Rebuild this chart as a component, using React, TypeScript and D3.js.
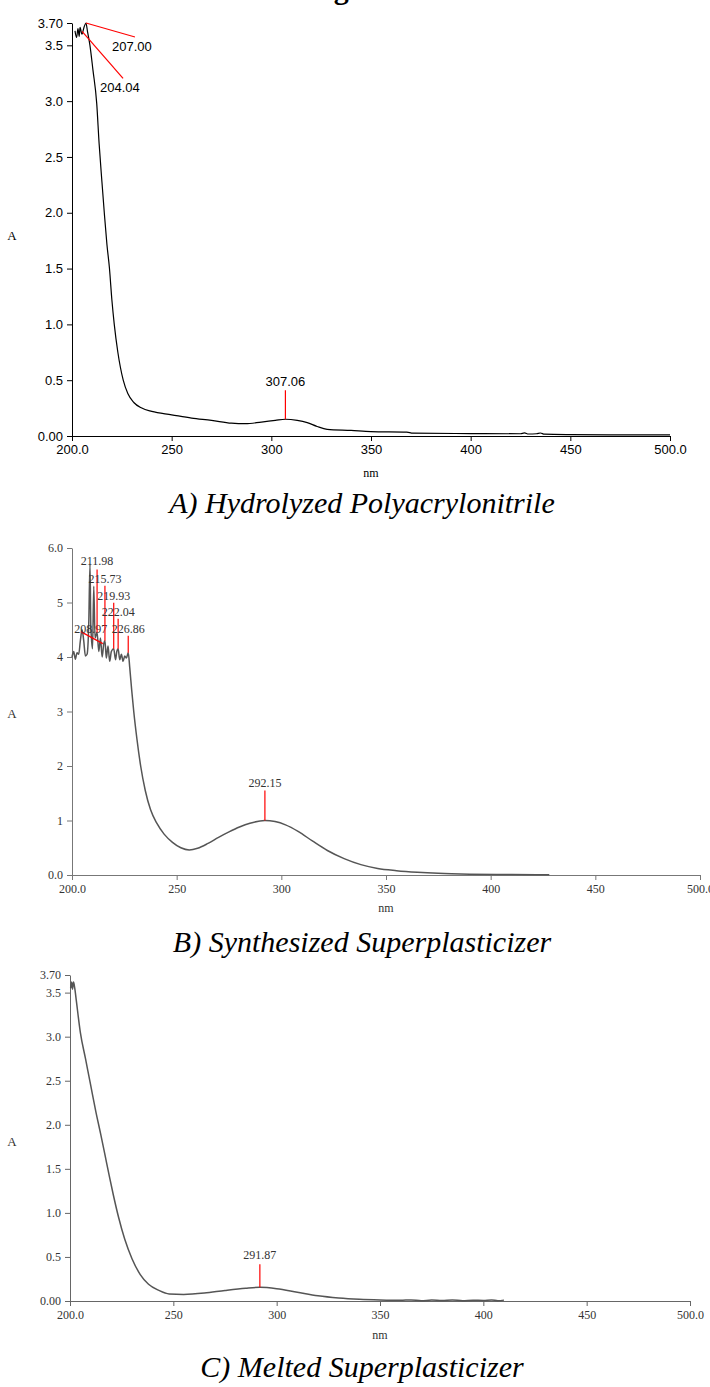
import React, { useEffect, useRef } from 'react';
import * as d3 from 'd3';

// UV-Vis spectra, three stacked panels

const xTicks = [200, 250, 300, 350, 400, 450, 500];
const xLabels = ['200.0', '250', '300', '350', '400', '450', '500.0'];

// A) hydrolyzed polyacrylonitrile
const aWave = [201.5, 202.3, 203.0, 203.6, 204.04, 205.0, 206.0, 207.0, 207.8, 209.0, 210.5, 212.4, 213.6, 215.0, 216.2, 217.5, 218.8, 220.0, 221.2, 223.0, 225.7, 228.0, 231.0, 235.0, 240.0, 250.0, 260.0, 270.0, 280.0, 287.0, 295.0, 302.0, 307.06, 313.0, 318.0, 323.0, 328.0, 340.0, 350.0, 368.0, 371.0, 400.0, 425.0, 427.0, 429.0, 433.0, 435.0, 437.0, 450.0, 470.0, 500.0];
const aAbs = [3.63, 3.57, 3.65, 3.58, 3.66, 3.6, 3.66, 3.7, 3.62, 3.5, 3.28, 2.98, 2.62, 2.28, 2.0, 1.72, 1.5, 1.22, 1.0, 0.75, 0.5, 0.38, 0.3, 0.25, 0.22, 0.19, 0.16, 0.14, 0.115, 0.11, 0.125, 0.14, 0.15, 0.14, 0.12, 0.085, 0.06, 0.05, 0.04, 0.035, 0.025, 0.022, 0.02, 0.028, 0.018, 0.02, 0.027, 0.016, 0.012, 0.01, 0.01];
const aYTicks = [0, 0.5, 1, 1.5, 2, 2.5, 3, 3.5, 3.7];
const aYLabels = ['0.00', '0.5', '1.0', '1.5', '2.0', '2.5', '3.0', '3.5', '3.70'];
const aPeaks = [207.0, 204.04, 307.06];
const aPeakAbs = [3.7, 3.66, 0.15];

// B) synthesized superplasticizer
const bWave = [200.0, 200.8, 201.6, 202.4, 203.2, 204.0, 204.8, 205.6, 206.4, 207.2, 208.0, 208.6, 208.97, 209.2, 209.8, 210.4, 211.0, 211.98, 212.8, 213.6, 214.4, 215.2, 215.73, 216.4, 217.2, 218.0, 218.8, 219.93, 220.8, 221.4, 222.04, 222.8, 223.6, 224.4, 225.2, 226.0, 226.86, 227.6, 228.5, 229.5, 231.0, 232.8, 235.0, 237.5, 240.5, 244.0, 248.0, 252.0, 256.0, 260.0, 265.0, 270.0, 275.0, 280.0, 285.0, 292.15, 297.0, 302.0, 308.0, 315.0, 322.0, 330.0, 338.0, 346.0, 355.0, 365.0, 375.0, 390.0, 410.0, 428.0];
const bAbs = [4.0, 4.1, 3.96, 4.08, 4.05, 4.3, 4.5, 4.3, 4.02, 4.05, 4.6, 5.7, 4.6, 4.4, 4.15, 5.3, 4.35, 4.45, 4.1, 4.35, 4.0, 4.25, 4.3, 3.98, 4.2, 3.92, 4.1, 4.15, 3.95, 4.1, 4.15, 3.95, 4.05, 3.92, 4.02, 3.98, 4.08, 3.8, 3.4, 3.0, 2.5, 2.0, 1.55, 1.2, 0.95, 0.75, 0.6, 0.5, 0.46, 0.49, 0.58, 0.69, 0.79, 0.88, 0.95, 1.0, 0.98, 0.92, 0.8, 0.62, 0.45, 0.3, 0.19, 0.12, 0.08, 0.05, 0.03, 0.015, 0.008, 0.005];
const bYTicks = [0, 1, 2, 3, 4, 5, 6];
const bYLabels = ['0.0', '1', '2', '3', '4', '5', '6.0'];
const bPeaks = [208.97, 211.98, 215.73, 219.93, 222.04, 226.86, 292.15];
const bPeakAbs = [4.3, 4.45, 4.3, 4.15, 4.15, 4.08, 1.0];

// C) melted superplasticizer
const cWave = [200.3, 200.8, 201.2, 201.7, 202.3, 203.0, 205.0, 207.5, 210.0, 212.5, 214.8, 217.0, 219.0, 221.0, 223.5, 226.5, 230.0, 234.0, 238.0, 243.0, 248.0, 255.0, 265.0, 275.0, 285.0, 291.87, 300.0, 310.0, 320.0, 330.0, 340.0, 350.0, 360.0, 365.0, 370.0, 375.0, 380.0, 385.0, 390.0, 395.0, 400.0, 404.0, 407.0, 410.0];
const cAbs = [3.55, 3.62, 3.54, 3.62, 3.55, 3.42, 3.05, 2.75, 2.45, 2.15, 1.9, 1.65, 1.42, 1.2, 0.95, 0.7, 0.48, 0.3, 0.19, 0.12, 0.08, 0.075, 0.09, 0.12, 0.145, 0.155, 0.14, 0.1, 0.06, 0.035, 0.02, 0.012, 0.008, 0.012, 0.004, 0.01, 0.005, 0.011, 0.004, 0.009, 0.006, 0.012, 0.004, 0.01];
const cPeaks = [291.87];
const cPeakAbs = [0.155];

// label offsets from each peak (px): line start, line end, text
const aPeakLayout = [
  { sx: 0, sy: 0, lx: 49, ly: 14, tx: 26, ty: 28, anchor: 'start' },
  { sx: 2, sy: 4, lx: 43, ly: 51, tx: 20, ty: 65, anchor: 'start' },
  { sx: 0, sy: 0, lx: 0, ly: -29, tx: 0, ty: -33, anchor: 'middle' },
];
const bPeakLayout = [
  { sx: -10, sy: -9, lx: 12, ly: 3, tx: 0, ty: -8, anchor: 'middle' },
  { sx: 0, sy: 0, lx: 0, ly: -63, tx: 0, ty: -67, anchor: 'middle' },
  { sx: 0, sy: 0, lx: 0, ly: -55, tx: 0, ty: -58, anchor: 'middle' },
  { sx: 0, sy: 0, lx: 0, ly: -46, tx: 0, ty: -49, anchor: 'middle' },
  { sx: 0, sy: 0, lx: 0, ly: -30, tx: 0, ty: -33, anchor: 'middle' },
  { sx: 0, sy: 0, lx: 0, ly: -17, tx: 0, ty: -20, anchor: 'middle' },
  { sx: 0, sy: 0, lx: 0, ly: -30, tx: 0, ty: -34, anchor: 'middle' },
];
const cPeakLayout = [
  { sx: 0, sy: 0, lx: 0, ly: -23, tx: 0, ty: -28, anchor: 'middle' },
];

const panels = [
  {
    wave: aWave, abs: aAbs, yMax: 3.7, yTicks: aYTicks, yLabels: aYLabels,
    peaks: aPeaks, peakAbs: aPeakAbs, layout: aPeakLayout,
    caption: 'A) Hydrolyzed Polyacrylonitrile',
    left: 72, right: 670, top: 23, bottom: 436,
    font: 'Liberation Sans, Arial, sans-serif', fontSize: 13, ink: '#000', axisInk: '#000', lineInk: '#000', lineWidth: 1.2,
    yLabelY: 240, nmGap: 41, captionY: 513,
  },
  {
    wave: bWave, abs: bAbs, yMax: 6, yTicks: bYTicks, yLabels: bYLabels,
    peaks: bPeaks, peakAbs: bPeakAbs, layout: bPeakLayout,
    caption: 'B) Synthesized Superplasticizer',
    left: 72, right: 700, top: 548, bottom: 875,
    font: 'Liberation Serif, serif', fontSize: 12, ink: '#333', axisInk: '#777', lineInk: '#555', lineWidth: 1.5,
    yLabelY: 718, nmGap: 37, captionY: 952,
  },
  {
    wave: cWave, abs: cAbs, yMax: 3.7, yTicks: aYTicks, yLabels: aYLabels,
    peaks: cPeaks, peakAbs: cPeakAbs, layout: cPeakLayout,
    caption: 'C) Melted Superplasticizer',
    left: 70, right: 690, top: 975, bottom: 1301,
    font: 'Liberation Serif, serif', fontSize: 12, ink: '#333', axisInk: '#666', lineInk: '#555', lineWidth: 1.5,
    yLabelY: 1146, nmGap: 38, captionY: 1377,
  },
];

const WIDTH = 710;
const HEIGHT = 1387;

const App = () => {
  const svgRef = useRef(null);

  useEffect(() => {
    const svg = d3.select(svgRef.current);
    svg.selectAll('*').remove();

    // cut-off figure title at the very top
    svg.append('text')
      .attr('x', 307)
      .attr('y', -1)
      .attr('font-family', 'Liberation Serif, serif')
      .attr('font-weight', 'bold')
      .attr('font-size', 30)
      .text('Figure');

    panels.forEach(p => plotPanel(svg, p));
  });

  const plotPanel = (svg, p) => {
    const x = d3.scaleLinear().domain([200, 500]).range([p.left, p.right]);
    const y = d3.scaleLinear().domain([0, p.yMax]).range([p.bottom, p.top]);
    const g = svg.append('g');

    const xAxis = d3.axisBottom(x)
      .tickValues(xTicks)
      .tickFormat((d, i) => xLabels[i])
      .tickSize(5)
      .tickSizeOuter(0)
      .tickPadding(4);
    const yAxis = d3.axisLeft(y)
      .tickValues(p.yTicks)
      .tickFormat((d, i) => p.yLabels[i])
      .tickSize(5)
      .tickSizeOuter(0)
      .tickPadding(4);

    g.append('g')
      .attr('transform', `translate(0, ${p.bottom})`)
      .call(xAxis)
      .call(a => a.attr('font-family', p.font).attr('font-size', p.fontSize))
      .call(a => a.selectAll('line, path').attr('stroke', p.axisInk))
      .call(a => a.selectAll('text').attr('fill', p.ink));

    g.append('g')
      .attr('transform', `translate(${p.left}, 0)`)
      .call(yAxis)
      .call(a => a.attr('font-family', p.font).attr('font-size', p.fontSize))
      .call(a => a.selectAll('line, path').attr('stroke', p.axisInk))
      .call(a => a.selectAll('text').attr('fill', p.ink));

    // axis titles
    g.append('text')
      .attr('x', 12)
      .attr('y', p.yLabelY)
      .attr('text-anchor', 'middle')
      .attr('font-family', 'Liberation Serif, serif')
      .attr('font-size', 13)
      .attr('fill', p.ink)
      .text('A');

    g.append('text')
      .attr('x', (p.left + p.right) / 2)
      .attr('y', p.bottom + p.nmGap)
      .attr('text-anchor', 'middle')
      .attr('font-family', 'Liberation Serif, serif')
      .attr('font-size', 12)
      .attr('fill', p.ink)
      .text('nm');

    // spectrum
    const line = d3.line()
      .x(i => x(p.wave[i]))
      .y(i => y(p.abs[i]))
      .curve(d3.curveMonotoneX);

    g.append('path')
      .datum(d3.range(p.wave.length))
      .attr('d', line)
      .attr('fill', 'none')
      .attr('stroke', p.lineInk)
      .attr('stroke-width', p.lineWidth)
      .attr('stroke-linejoin', 'round');

    // peak picks
    p.peaks.forEach((wl, i) => {
      const px = x(wl);
      const py = y(p.peakAbs[i]);
      const l = p.layout[i];
      g.append('line')
        .attr('x1', px + l.sx)
        .attr('y1', py + l.sy)
        .attr('x2', px + l.lx)
        .attr('y2', py + l.ly)
        .attr('stroke', '#f00')
        .attr('stroke-width', 1.2);
      g.append('text')
        .attr('x', px + l.tx)
        .attr('y', py + l.ty)
        .attr('text-anchor', l.anchor)
        .attr('font-family', p.font)
        .attr('font-size', p.fontSize)
        .attr('fill', p.ink)
        .text(wl.toFixed(2));
    });

    // caption
    svg.append('text')
      .attr('x', 362)
      .attr('y', p.captionY)
      .attr('text-anchor', 'middle')
      .attr('font-family', 'Liberation Serif, serif')
      .attr('font-style', 'italic')
      .attr('font-size', 30)
      .attr('fill', '#000')
      .text(p.caption);
  };

  return (
    <svg
      ref={svgRef}
      width={WIDTH}
      height={HEIGHT}
      viewBox={`0 0 ${WIDTH} ${HEIGHT}`}
      style={{ position: 'absolute', left: 0, top: 0, background: '#fff' }}
    />
  );
};

export default App;
